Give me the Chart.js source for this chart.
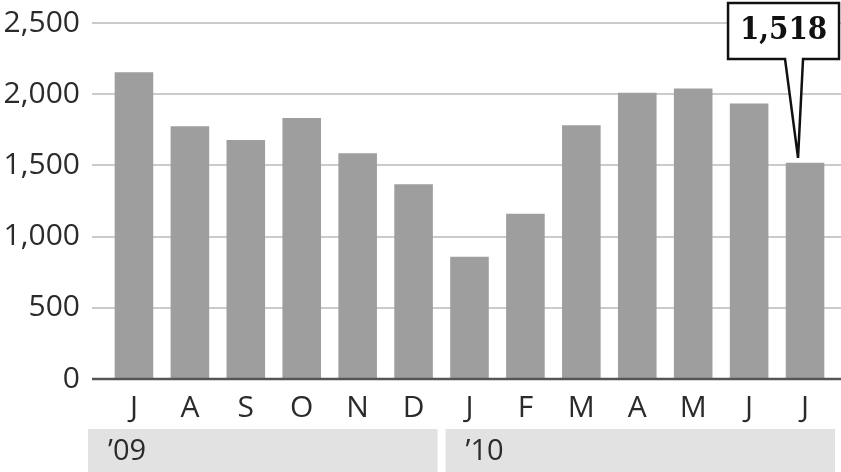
<!DOCTYPE html>
<html>
<head>
<meta charset="utf-8">
<style>
html,body{margin:0;padding:0;background:#fff;}
#wrap{width:841px;height:472px;position:relative;}
</style>
<script src="https://cdn.jsdelivr.net/npm/chart.js@4/dist/chart.umd.min.js"></script>
</head>
<body>
<div id="wrap"><canvas id="c" width="841" height="472"></canvas></div>
<script>
const months = ["J","A","S","O","N","D","J","F","M","A","M","J","J"];
const values = [2155,1775,1678,1833,1585,1368,858,1160,1782,2010,2040,1935,1518];
const yTicks = [0,500,1000,1500,2000,2500];
const years = ["\u201909","\u201910"];
const yearStart = [0,6];
const yearEnd = [5,12];

const FONT = "'Open Sans', 'Noto Sans', sans-serif";
const TXT = "#2b2b2b";

const decor = {
  id: 'decor',
  beforeDatasetsDraw(chart) {
    const ctx = chart.ctx, y = chart.scales.y, x = chart.scales.x;
    const W = chart.width;
    ctx.save();
    yTicks.forEach(v => {
      if (v === 0) return;
      const py = Math.round(y.getPixelForValue(v));
      ctx.strokeStyle = '#cbcbcb';
      ctx.lineWidth = 2;
      ctx.beginPath(); ctx.moveTo(92, py); ctx.lineTo(W, py); ctx.stroke();
    });
    const step = x.getPixelForValue(1) - x.getPixelForValue(0);
    const bandTop = 429;
    years.forEach((lab, i) => {
      let l = x.getPixelForValue(yearStart[i]) - step/2 + 4;
      let r = x.getPixelForValue(yearEnd[i]) + step/2 - 4;
      if (i === 0) l = 88;
      if (i === years.length - 1) r = 835;
      ctx.fillStyle = '#e2e2e2';
      ctx.fillRect(l, bandTop, r - l, chart.height - bandTop);
      ctx.fillStyle = TXT;
      ctx.font = "29px " + FONT;
      ctx.textAlign = 'left';
      ctx.textBaseline = 'middle';
      ctx.fillText(lab, l + 20, 452);
    });
    ctx.restore();
  },
  afterDatasetsDraw(chart) {
    const ctx = chart.ctx, y = chart.scales.y;
    ctx.save();
    const py = Math.round(y.getPixelForValue(0));
    ctx.strokeStyle = '#555';
    ctx.lineWidth = 2.5;
    ctx.beginPath(); ctx.moveTo(92, py); ctx.lineTo(chart.width, py); ctx.stroke();

    const meta = chart.getDatasetMeta(0);
    const bar = meta.data[meta.data.length - 1];
    const tipX = bar.x - 7, tipY = bar.y - 5;
    const bl = bar.x - 77, br = bar.x + 34, bt = 3, bb = 59;
    const pl = bar.x - 20, pr = bar.x - 2;
    ctx.lineWidth = 2.5;
    ctx.strokeStyle = '#111';
    ctx.fillStyle = '#fff';
    ctx.beginPath();
    ctx.moveTo(bl, bt); ctx.lineTo(br, bt); ctx.lineTo(br, bb);
    ctx.lineTo(pr, bb); ctx.lineTo(tipX, tipY); ctx.lineTo(pl, bb);
    ctx.lineTo(bl, bb); ctx.closePath();
    ctx.fill(); ctx.stroke();
    ctx.fillStyle = '#111';
    ctx.font = "bold 31px 'DejaVu Serif Condensed', 'DejaVu Serif', serif";
    ctx.textAlign = 'center';
    ctx.textBaseline = 'middle';
    ctx.fillText(values[values.length - 1].toLocaleString('en-US'), (bl + br) / 2, 31);
    ctx.restore();
  }
};

new Chart(document.getElementById('c'), {
  type: 'bar',
  data: {
    labels: months,
    datasets: [{
      data: values,
      backgroundColor: '#9e9e9e',
      borderWidth: 0,
      barPercentage: 0.69,
      categoryPercentage: 1.0
    }]
  },
  options: {
    responsive: false,
    animation: false,
    events: [],
    layout: { padding: { top: 23, right: 8, bottom: 0, left: 0 } },
    plugins: { legend: { display: false }, tooltip: { enabled: false } },
    scales: {
      x: {
        grid: { display: false, drawTicks: false },
        border: { display: false },
        ticks: { color: TXT, font: { family: FONT, size: 30 }, padding: 11, maxRotation: 0, autoSkip: false },
        afterFit(s) { s.height = 93; }
      },
      y: {
        min: 0, max: 2500,
        afterBuildTicks(s) { s.ticks = yTicks.map(v => ({ value: v })); },
        grid: { display: false, drawTicks: false },
        border: { display: false },
        ticks: { color: TXT, font: { family: FONT, size: 30 }, padding: 26,
          callback: v => v.toLocaleString('en-US') },
        afterFit(s) { s.width = 106; s.paddingTop = 0; s.paddingBottom = 0; }
      }
    }
  },
  plugins: [decor]
});
</script>
</body>
</html>
